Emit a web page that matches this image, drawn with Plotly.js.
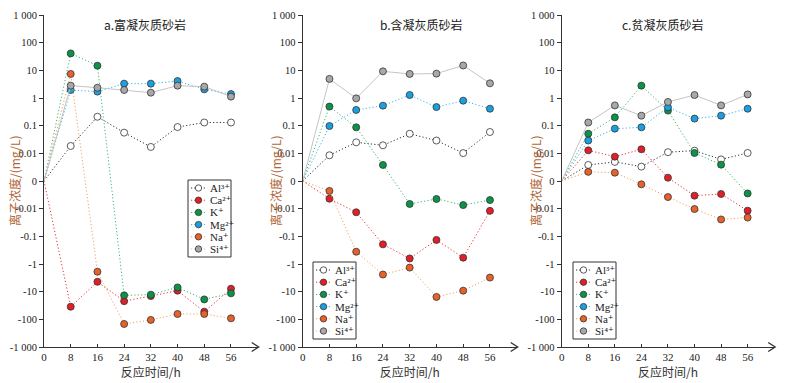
<!DOCTYPE html>
<html>
<head>
<meta charset="utf-8">
<script src="https://cdn.plot.ly/plotly-3.0.1.min.js"></script>
<style>html,body{margin:0;padding:0;background:#fff;}#chart{width:790px;height:383px;}</style>
</head>
<body>
<div id="chart"></div>
<script>
// ---------- data ----------
const time = [0, 8, 16, 24, 32, 40, 48, 56];
const seriesNames = ['Al³⁺', 'Ca²⁺', 'K⁺', 'Mg²⁺', 'Na⁺', 'Si⁴⁺'];
const panelTitles = ['a.富凝灰质砂岩', 'b.含凝灰质砂岩', 'c.贫凝灰质砂岩'];
const yTickValues = [-1000, -100, -10, -1, -0.1, -0.01, 0, 0.01, 0.1, 1, 10, 100, 1000];
const yTickText = ['-1 000', '-100', '-10', '-1', '-0.1', '-0.01', '0', '0.01', '0.1', '1', '10', '100', '1 000'];

// panel a
const aAl = [0, 0.0184, 0.21, 0.056, 0.017, 0.089, 0.13, 0.13];
const aCa = [0, -35, -4.4, -22, -14.4, -9.2, -53, -7.8];
const aK  = [0, 41, 14.7, -13.6, -12.8, -7, -19, -11.5];
const aMg = [0, 1.95, 1.7, 3.3, 3.3, 4.1, 2.05, 1.39];
const aNa = [0, 7.4, -1.9, -147, -105, -64, -64, -92];
const aSi = [0, 2.8, 2.35, 1.95, 1.56, 2.8, 2.57, 1.12];
// panel b
const bAl = [0, 0.0093, 0.025, 0.0195, 0.051, 0.029, 0.0102, 0.059];
const bCa = [0, -0.0064, -0.0135, -0.195, -0.63, -0.135, -0.59, -0.012];
const bK  = [0, 0.49, 0.087, 0.0058, -0.0083, -0.0065, -0.0087, -0.0069];
const bMg = [0, 0.097, 0.37, 0.53, 1.28, 0.47, 0.8, 0.41];
const bNa = [0, -0.0036, -0.36, -2.4, -1.35, -15.5, -9.2, -3.1];
const bSi = [0, 4.9, 0.97, 9.2, 7.4, 7.6, 15, 3.4];
// panel c
const cAl = [0, 0.0058, 0.0069, 0.0052, 0.011, 0.0125, 0.0078, 0.0103];
const cCa = [0, 0.0128, 0.0088, 0.014, 0.0012, -0.0053, -0.0047, -0.0118];
const cK  = [0, 0.051, 0.2, 2.8, 0.35, 0.0103, 0.0059, -0.0045];
const cMg = [0, 0.029, 0.078, 0.087, 0.46, 0.18, 0.23, 0.41];
const cNa = [0, 0.0033, 0.003, -0.0012, -0.0058, -0.0103, -0.0245, -0.021];
const cSi = [0, 0.13, 0.54, 0.23, 0.72, 1.28, 0.54, 1.35];

const panels = [
  [aAl, aCa, aK, aMg, aNa, aSi],
  [bAl, bCa, bK, bMg, bNa, bSi],
  [cAl, cCa, cK, cMg, cNa, cSi]
];

// ---------- styles ----------
const markerFill = ['#ffffff', '#e31e26', '#0b9447', '#1aa0e0', '#e8612b', '#a8a8a8'];
const lineColor  = ['#333333', '#e8303a', '#35b873', '#3ab4e8', '#f2a060', '#c4c4c4'];
const lineDash   = ['1.2px,2.2px', '1.2px,2.2px', '1.2px,2.2px', '1.2px,2.2px', '1.2px,2.2px', 'solid'];

// symmetric log transform: linear inside +-0.01, one decade per unit outside
function tr(v) {
  const a = Math.abs(v);
  if (a < 0.01) return v * 100;
  return Math.sign(v) * (Math.log10(a) + 3);
}

const W = 790, H = 383;
const px = x => x / W;
const py = y => 1 - y / H;

const xDomains = [[44, 257.7], [302.7, 516.7], [561.7, 774.2]];
const yTop = 15, yBot = 347;
const legendBoxes = [[188, 180], [313, 262], [573, 262]]; // left, top in px
const titleX = [145, 422, 662];
const yTitleX = [14, 275, 535];

const serif = 'Liberation Serif, Times New Roman, DejaVu Serif, Noto Sans CJK SC, serif';
const cjk = 'Noto Sans CJK SC, Liberation Serif, serif';

const traces = [];
panels.forEach((series, p) => {
  const sfx = p === 0 ? '' : String(p + 1);
  series.forEach((vals, s) => {
    traces.push({
      x: time,
      y: vals.map(tr),
      customdata: vals,
      xaxis: 'x' + sfx,
      yaxis: 'y' + sfx,
      mode: 'lines+markers',
      name: seriesNames[s],
      showlegend: false,
      line: {color: lineColor[s], width: 1, dash: lineDash[s]},
      marker: {
        size: 7,
        color: markerFill[s],
        opacity: time.map(t => t === 0 ? 0 : 1),
        line: {color: '#333', width: 0.8}
      },
      hovertemplate: '%{x} h: %{customdata}<extra></extra>'
    });
  });
});

const layout = {
  width: W, height: H, autosize: false,
  margin: {l: 0, r: 0, t: 0, b: 0},
  paper_bgcolor: '#fff', plot_bgcolor: 'rgba(0,0,0,0)',
  showlegend: false,
  font: {family: serif, color: '#222', size: 11},
  shapes: [], annotations: []
};

const yTickPos = yTickValues.map(tr);

panels.forEach((series, p) => {
  const sfx = p === 0 ? '' : String(p + 1);
  const xd = xDomains[p];
  layout['xaxis' + sfx] = {
    domain: [px(xd[0]), px(xd[1])],
    anchor: 'y' + sfx,
    range: [0, 64],
    tickmode: 'array', tickvals: time, ticktext: time.map(String),
    ticks: 'inside', ticklen: 3, tickwidth: 1, tickcolor: '#333',
    showline: true, linecolor: '#333', linewidth: 1,
    showgrid: false, zeroline: false,
    tickfont: {family: serif, size: 11, color: '#222'},
    title: {text: '反应时间/h', font: {family: cjk, size: 12, color: '#333'}, standoff: 1}
  };
  layout['yaxis' + sfx] = {
    domain: [py(yBot), py(yTop)],
    anchor: 'x' + sfx,
    range: [-6, 6],
    tickmode: 'array', tickvals: yTickPos, ticktext: yTickText,
    ticks: 'outside', ticklen: 4, tickwidth: 1, tickcolor: '#333',
    showline: true, linecolor: '#333', linewidth: 1,
    showgrid: false, zeroline: false,
    tickfont: {family: serif, size: 10.5, color: '#222'}
  };

  // x-axis arrow head
  const ax = xd[1] + 1, ay = yBot;
  layout.shapes.push({
    type: 'path', xref: 'paper', yref: 'paper',
    path: `M ${px(ax - 7)},${py(ay - 4.5)} L ${px(ax)},${py(ay)} L ${px(ax - 7)},${py(ay + 4.5)}`,
    line: {color: '#333', width: 1.3}
  });

  // panel title
  layout.annotations.push({
    xref: 'paper', yref: 'paper', x: px(titleX[p]), y: py(25),
    text: panelTitles[p], showarrow: false, xanchor: 'center', yanchor: 'middle',
    font: {family: cjk, size: 12, color: '#222'}
  });
  // y-axis title
  layout.annotations.push({
    xref: 'paper', yref: 'paper', x: px(yTitleX[p]), y: py(181),
    text: '离子浓度/(mg/L)', showarrow: false, textangle: -90,
    xanchor: 'center', yanchor: 'middle',
    font: {family: cjk, size: 12, color: '#b0683a'}
  });

  // legend (box + glyphs + text)
  const [L, T] = legendBoxes[p];
  layout.shapes.push({
    type: 'rect', xref: 'paper', yref: 'paper',
    x0: px(L), x1: px(L + 43), y0: py(T), y1: py(T + 77),
    line: {color: '#333', width: 1}, fillcolor: '#fff', layer: 'above'
  });
  seriesNames.forEach((nm, s) => {
    const yy = T + 8 + 12.2 * s;
    layout.shapes.push({
      type: 'line', xref: 'paper', yref: 'paper',
      x0: px(L + 3), x1: px(L + 18), y0: py(yy), y1: py(yy),
      line: {color: lineColor[s], width: 1, dash: '1.2px,2px'}, layer: 'above'
    });
    layout.shapes.push({
      type: 'circle', xref: 'paper', yref: 'paper',
      x0: px(L + 10.5 - 3.2), x1: px(L + 10.5 + 3.2), y0: py(yy + 3.2), y1: py(yy - 3.2),
      fillcolor: markerFill[s], line: {color: '#333', width: 0.8}, layer: 'above'
    });
    layout.annotations.push({
      xref: 'paper', yref: 'paper', x: px(L + 20), y: py(yy),
      text: nm, showarrow: false, xanchor: 'left', yanchor: 'middle',
      font: {family: serif, size: 11, color: '#222'}
    });
  });
});

Plotly.newPlot('chart', traces, layout, {displayModeBar: false, staticPlot: true});
</script>
</body>
</html>
